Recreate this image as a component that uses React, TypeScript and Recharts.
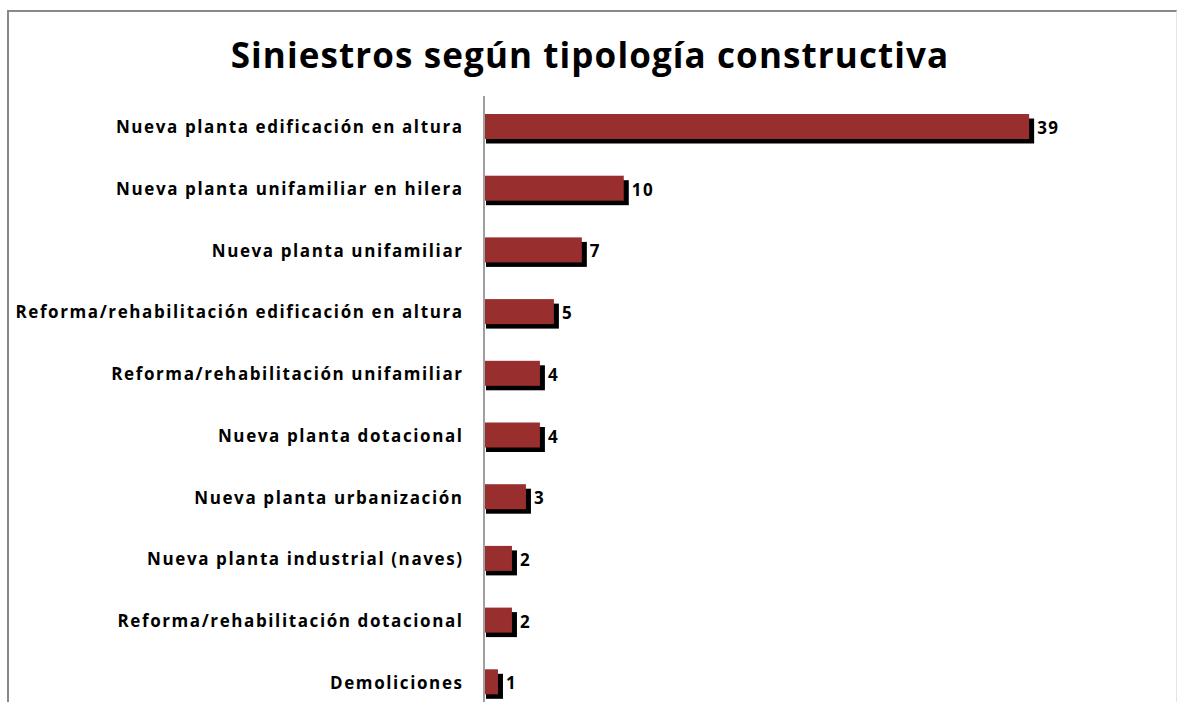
import React from "react";
import { BarChart, Bar, XAxis, YAxis, LabelList } from "recharts";

const categories = [
  "Nueva planta edificación en altura",
  "Nueva planta unifamiliar en hilera",
  "Nueva planta unifamiliar",
  "Reforma/rehabilitación edificación en altura",
  "Reforma/rehabilitación unifamiliar",
  "Nueva planta dotacional",
  "Nueva planta urbanización",
  "Nueva planta industrial (naves)",
  "Reforma/rehabilitación dotacional",
  "Demoliciones",
];
const values = [39, 10, 7, 5, 4, 4, 3, 2, 2, 1];
const title = "Siniestros según tipología constructiva";

const data = categories.map((c, i) => ({ name: c, value: values[i] }));

const FONT = "'Open Sans', 'DejaVu Sans', sans-serif";

const ShadowBar = (props: any) => {
  const { x, y, width, height } = props;
  if (width <= 0) return null;
  return (
    <g>
      <rect x={x + 2} y={y + 4.5} width={width + 3} height={height} fill="#000000" />
      <rect x={x} y={y} width={width} height={height} fill="#992E2E" />
    </g>
  );
};

const Tick = (props: any) => {
  const { x, y, payload } = props;
  return (
    <text
      x={x + 1.6}
      y={y}
      textAnchor="end"
      dominantBaseline="central"
      fontFamily={FONT}
      fontWeight={700}
      fontSize={17}
      letterSpacing={1.6}
      fill="#000"
    >
      {payload.value}
    </text>
  );
};

const ValueLabel = (props: any) => {
  const { x, y, width, height, value } = props;
  return (
    <text
      x={x + width + 8}
      y={y + height / 2 + 1}
      textAnchor="start"
      dominantBaseline="central"
      fontFamily={FONT}
      fontWeight={700}
      fontSize={17}
      letterSpacing={1.5}
      fill="#000"
    >
      {value}
    </text>
  );
};

export default function App() {
  return (
    <div
      style={{
        position: "absolute",
        left: 0,
        top: 0,
        width: 1177,
        height: 702,
        overflow: "hidden",
        background: "#fff",
      }}
    >
      <div
        style={{
          position: "absolute",
          left: 7,
          top: 10,
          width: 1167,
          height: 760,
          borderLeft: "2px solid #888",
          borderTop: "2px solid #888",
          borderRight: "1px solid #e4e4e4",
        }}
      />
      <svg
        width={1177}
        height={100}
        style={{ position: "absolute", left: 0, top: 0 }}
      >
        <text
          x={590}
          y={68}
          textAnchor="middle"
          fontFamily={FONT}
          fontWeight={700}
          fontSize={35}
          letterSpacing={1.1}
          fill="#000"
        >
          {title}
        </text>
      </svg>
      <div style={{ position: "absolute", left: 0, top: 0 }}>
        <BarChart
          layout="vertical"
          width={1177}
          height={713}
          data={data}
          margin={{ top: 96, right: 64, bottom: 0, left: 0 }}
          barSize={25}
        >
          <XAxis type="number" domain={[0, 45]} hide />
          <YAxis
            type="category"
            dataKey="name"
            width={484}
            axisLine={{ stroke: "#a0a0a0", strokeWidth: 2 }}
            tickLine={false}
            tickSize={0}
            tickMargin={22}
            tick={<Tick />}
            interval={0}
          />
          <Bar dataKey="value" isAnimationActive={false} shape={<ShadowBar />}>
            <LabelList dataKey="value" content={<ValueLabel />} />
          </Bar>
        </BarChart>
      </div>
    </div>
  );
}
